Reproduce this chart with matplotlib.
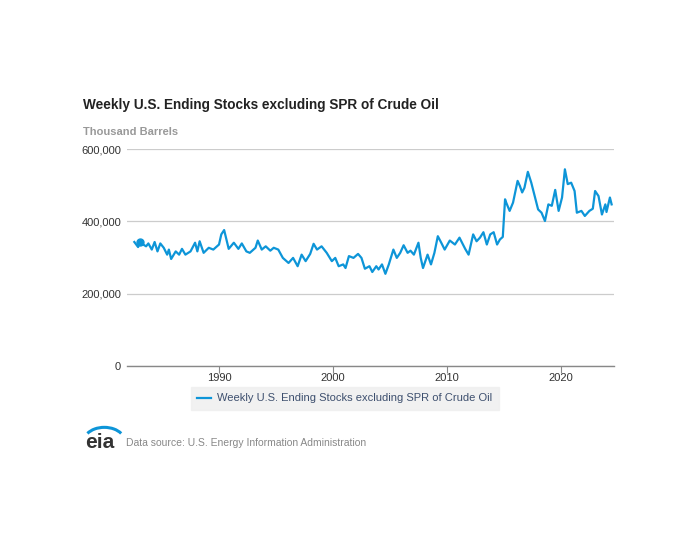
import matplotlib
matplotlib.use('Agg')
import matplotlib.pyplot as plt
from matplotlib.patches import Arc
from matplotlib.ticker import FuncFormatter

plt.rcParams['font.family'] = ['Liberation Sans', 'DejaVu Sans']

# Weekly U.S. ending stocks excl. SPR (thousand barrels)
years = [1982.57, 1982.9, 1983.1, 1983.35, 1983.6, 1983.8, 1984.1, 1984.35, 1984.6, 1984.85,
         1985.15, 1985.45, 1985.6, 1985.8, 1986.2, 1986.5, 1986.75, 1987.05, 1987.5, 1987.9,
         1988.1, 1988.3, 1988.65, 1989.1, 1989.5, 1990.0, 1990.2, 1990.45, 1990.85, 1991.3,
         1991.7, 1992.0, 1992.4, 1992.7, 1993.2,
         1993.4, 1993.75, 1994.1, 1994.5, 1994.8, 1995.2, 1995.6, 1996.1, 1996.5, 1996.9,
         1997.25, 1997.6, 1998.0, 1998.3, 1998.6, 1999.0, 1999.45, 1999.9, 2000.2, 2000.5,
         2000.9, 2001.1, 2001.4, 2001.8, 2002.2, 2002.5, 2002.8, 2003.2, 2003.45, 2003.8,
         2004.0, 2004.3, 2004.6, 2004.9, 2005.3, 2005.6, 2005.9, 2006.2, 2006.55, 2006.8,
         2007.1, 2007.5, 2007.7, 2007.9, 2008.3, 2008.6, 2008.9, 2009.2, 2009.5, 2009.8,
         2010.25, 2010.7, 2011.1, 2011.6, 2011.9, 2012.3, 2012.6, 2012.9, 2013.2, 2013.5,
         2013.8, 2014.1, 2014.4, 2014.65, 2014.9, 2015.1, 2015.2, 2015.5, 2015.8, 2016.2,
         2016.4, 2016.6, 2016.8, 2017.1, 2017.4, 2017.7, 2018.0, 2018.3, 2018.6, 2018.9,
         2019.2, 2019.5, 2019.8, 2020.1, 2020.35, 2020.6, 2020.9, 2021.2, 2021.4, 2021.8,
         2022.1, 2022.5, 2022.8, 2023.0, 2023.3, 2023.6, 2023.9, 2024.0, 2024.3, 2024.45]
stocks = [343, 329, 344, 336, 331, 339, 322, 343, 317, 339,
          327, 308, 322, 296, 317, 308, 324, 308, 317, 341,
          317, 345, 313, 327, 322, 336, 364, 376, 324, 341,
          324, 339, 317, 313, 327,
          347, 322, 331, 319, 327, 322, 299, 285, 299, 276,
          308, 290, 310, 338, 322, 331, 313, 290, 299, 276,
          281, 271, 304, 299, 310, 299, 269, 276, 260, 276,
          267, 281, 255, 281, 322, 299, 313, 334, 313, 319,
          308, 341, 299, 271, 308, 281, 313, 359, 341, 322,
          347, 336, 355, 324, 308, 364, 345, 355, 370, 336,
          364, 370, 336, 350, 357, 461, 452, 429, 452, 512,
          498, 480, 493, 537, 507, 470, 433, 424, 401, 447,
          443, 487, 429, 466, 544, 503, 507, 484, 424, 429,
          415, 429, 435, 484, 470, 419, 447, 426, 466, 447]
stocks = [v * 1000 for v in stocks]

series_name = 'Weekly U.S. Ending Stocks excluding SPR of Crude Oil'
highlight_year = 1983.1
highlight_value = 344000

blue = '#0d95d8'

fig = plt.figure(figsize=(7, 5.5), dpi=100)
ax = fig.add_axes([0.181, 0.3345, 0.696, 0.3945])

ax.plot(years, stocks, color=blue, linewidth=1.6, solid_joinstyle='round')
ax.plot([highlight_year], [highlight_value], 'o', color=blue, markersize=5)

ax.set_xlim(1981.9, 2024.65)
ax.set_ylim(0, 600000)
ax.set_yticks([0, 200000, 400000, 600000])
ax.yaxis.set_major_formatter(FuncFormatter(lambda v, p: f'{int(v):,}'))
ax.set_xticks([1990, 2000, 2010, 2020])

for s in ['top', 'right', 'left']:
    ax.spines[s].set_visible(False)
ax.spines['bottom'].set_color('#888888')
ax.spines['bottom'].set_linewidth(1.0)
ax.grid(axis='y', color='#cccccc', linewidth=0.9)
ax.set_axisbelow(True)
ax.tick_params(axis='y', length=0, labelsize=8, labelcolor='#333333', pad=4)
ax.tick_params(axis='x', length=5, color='#888888', labelsize=8,
               labelcolor='#333333', pad=0)

fig.text(0.119, 0.809, series_name, fontsize=9.8, fontweight='bold',
         color='#222222', va='center')
fig.text(0.119, 0.760, 'Thousand Barrels', fontsize=8, fontweight='bold',
         color='#999999', va='center')

leg = ax.legend([series_name], loc='upper center', bbox_to_anchor=(0.448, -0.07),
                frameon=True, fontsize=8, handlelength=1.2, borderpad=0.6,
                handletextpad=0.6, fancybox=False)
leg.get_frame().set_facecolor('#eeeeee')
leg.get_frame().set_edgecolor('#eeeeee')
for t in leg.get_texts():
    t.set_color('#3d4f6e')

# eia logo
fig.text(0.121, 0.195, 'eia', fontsize=15, fontweight='bold', color='#333333',
         va='center', ha='left')
logo = Arc((0.149, 0.198), 0.058, 0.05, theta1=30, theta2=150,
           transform=fig.transFigure, color=blue, linewidth=2.2)
fig.add_artist(logo)
fig.text(0.18, 0.194, 'Data source: U.S. Energy Information Administration',
         fontsize=7.5, color='#888888', va='center')

fig.savefig('out.png', dpi=100)
